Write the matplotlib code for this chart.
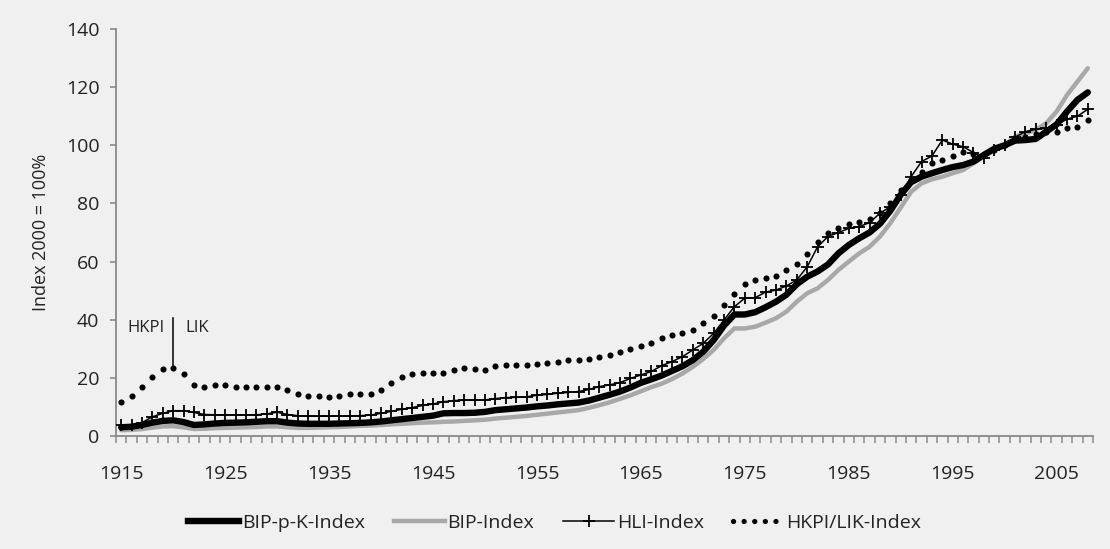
import matplotlib
matplotlib.use("Agg")
import matplotlib.pyplot as plt
from matplotlib.lines import Line2D
from matplotlib.ticker import FixedLocator

years = list(range(1915, 2009))

bip_pk = [3.0, 3.2, 3.8, 4.6, 5.2, 5.4, 4.8, 3.8, 4.0, 4.3,
          4.5, 4.6, 4.7, 4.9, 5.1, 5.1, 4.6, 4.3, 4.2, 4.2,
          4.2, 4.3, 4.4, 4.5, 4.7, 5.0, 5.4, 5.8, 6.2, 6.6,
          7.0, 7.8, 7.9, 7.9, 8.0, 8.3, 8.9, 9.2, 9.5, 9.8,
          10.2, 10.5, 10.9, 11.2, 11.5, 12.2, 13.2, 14.2, 15.3, 16.7,
          18.3, 19.5, 20.8, 22.4, 24.0, 26.1, 29.0, 33.0, 38.0, 41.8,
          41.8, 42.6, 44.3, 46.2, 48.6, 52.2, 54.8, 56.6, 59.0, 62.8,
          65.7, 68.0, 70.0, 73.0, 77.5, 83.0, 87.3, 89.2, 90.4, 91.5,
          92.5, 93.2, 94.4, 96.7, 98.8, 100.0, 101.6, 101.8, 102.2, 104.7,
          107.2, 111.6, 115.6, 118.2]

bip = [2.0, 2.1, 2.4, 2.9, 3.3, 3.4, 3.0, 2.4, 2.5, 2.7,
       2.8, 2.9, 3.0, 3.1, 3.3, 3.3, 3.0, 2.8, 2.8, 2.9,
       3.0, 3.1, 3.3, 3.5, 3.6, 3.8, 4.0, 4.2, 4.4, 4.6,
       4.7, 4.9, 5.0, 5.2, 5.4, 5.6, 6.0, 6.3, 6.6, 6.9,
       7.3, 7.7, 8.1, 8.5, 8.9, 9.7, 10.6, 11.6, 12.8, 14.0,
       15.4, 16.8, 18.0, 19.6, 21.5, 23.8, 26.5, 29.6, 33.6, 37.0,
       37.0, 37.6, 39.0, 40.5, 42.8, 46.2, 49.1, 50.8, 53.7, 57.1,
       60.0, 62.8, 65.1, 68.6, 73.2, 78.6, 84.0, 86.9, 88.3, 89.2,
       90.4, 91.5, 93.8, 96.1, 98.4, 100.0, 103.0, 104.1, 105.3, 107.6,
       111.6, 117.3, 121.9, 126.5]

hli = [3.8, 3.8, 4.6, 6.6, 7.8, 8.7, 8.7, 8.1, 7.4, 7.3,
       7.3, 7.3, 7.3, 7.3, 7.6, 8.2, 7.4, 7.0, 6.8, 6.8,
       6.8, 6.8, 6.9, 7.0, 7.2, 7.8, 8.5, 9.2, 9.8, 10.5,
       11.0, 11.8, 12.2, 12.3, 12.3, 12.4, 12.9, 13.2, 13.3, 13.5,
       14.0, 14.3, 14.7, 15.0, 15.3, 16.0, 17.0, 17.6, 18.4, 19.8,
       21.0, 22.2, 24.2, 25.6, 27.3, 29.6, 31.9, 35.3, 39.9, 44.5,
       47.4, 47.6, 49.5, 50.2, 51.6, 53.7, 58.2, 65.1, 68.6, 70.0,
       71.4, 72.0, 73.4, 76.6, 78.9, 82.9, 89.2, 94.4, 96.3, 101.8,
       100.4, 99.5, 97.5, 95.5, 98.4, 100.1, 102.8, 104.7, 105.5, 105.8,
       107.0, 109.0, 110.0, 112.4]

hkpi_lik = [11.8, 13.8, 16.7, 20.4, 23.0, 23.5, 21.3, 17.5, 17.0, 17.5,
            17.5, 17.0, 17.0, 17.0, 17.0, 17.0, 15.8, 14.3, 13.8, 13.6,
            13.3, 13.8, 14.3, 14.3, 14.3, 15.8, 18.2, 20.2, 21.3, 21.8,
            21.8, 21.8, 22.7, 23.5, 23.0, 22.7, 24.1, 24.4, 24.4, 24.5,
            24.9, 25.2, 25.6, 26.0, 26.0, 26.5, 27.1, 28.0, 28.9, 29.9,
            31.0, 32.1, 33.6, 34.6, 35.3, 36.5, 39.0, 41.4, 45.0, 49.0,
            52.4, 53.7, 54.4, 55.0, 57.1, 59.3, 62.5, 66.6, 69.7, 71.4,
            73.0, 73.6, 74.7, 76.8, 80.0, 84.5, 88.0, 90.9, 93.8, 94.9,
            96.4, 97.6, 97.0, 96.5, 98.5, 100.0, 102.0, 103.0, 104.0, 104.5,
            104.7, 105.8, 106.2, 108.6]

label_years = [1915, 1925, 1935, 1945, 1955, 1965, 1975, 1985, 1995, 2005]
y_ticks = [0, 20, 40, 60, 80, 100, 120, 140]

series_names = ["BIP-p-K-Index", "BIP-Index", "HLI-Index", "HKPI/LIK-Index"]

font = "Open Sans"
plt.rcParams["font.family"] = [font, "DejaVu Sans"]
bg = "#f0f0f0"
axis_col = "#8a8a8a"
txt_col = "#222222"

fig = plt.figure(figsize=(11.10, 5.49), dpi=100, facecolor=bg)
ax = fig.add_axes([0.1045, 0.2058, 0.8802, 0.7414], facecolor=bg)

ax.plot(years, bip, color="#a8a8a8", lw=3.2, solid_capstyle="round", zorder=2)
ax.plot(years, bip_pk, color="black", lw=4.6, solid_capstyle="round", zorder=3)
ax.plot(years, hli, color="black", lw=1.1, marker="+", markersize=9,
        markeredgewidth=1.3, zorder=4)
ax.plot(years, hkpi_lik, color="black", lw=0, marker="o", markersize=4.4,
        markeredgewidth=0, zorder=5)

ax.set_xlim(1914.5, 2008.5)
ax.set_ylim(0, 140)

for s in ["top", "right"]:
    ax.spines[s].set_visible(False)
for s in ["left", "bottom"]:
    ax.spines[s].set_color(axis_col)
    ax.spines[s].set_linewidth(1.3)

ax.set_yticks(y_ticks)
ax.set_xticks(label_years)
ax.xaxis.set_minor_locator(FixedLocator([y - 0.5 for y in years] + [2008.5]))
ax.yaxis.set_tick_params(which="major", length=4, width=1.2, color=axis_col,
                         pad=8, labelsize=14, labelcolor=txt_col)
ax.xaxis.set_tick_params(which="minor", length=5, width=1.1, color=axis_col,
                         direction="out")
ax.xaxis.set_tick_params(which="major", length=0, width=0, pad=21,
                         labelsize=14, labelcolor=txt_col)

ax.set_ylabel("Index 2000 = 100%", fontsize=13, color=txt_col, labelpad=11)

# annotation for HKPI | LIK break
ax.plot([1920, 1920], [23.8, 40.5], color="black", lw=1.1, zorder=6)
ax.text(1919.2, 37.3, "HKPI", ha="right", va="center", fontsize=12, color=txt_col)
ax.text(1921.2, 37.3, "LIK", ha="left", va="center", fontsize=12, color=txt_col)

handles = [
    Line2D([], [], color="black", lw=4.6),
    Line2D([], [], color="#a8a8a8", lw=3.2),
    Line2D([], [], color="black", lw=1.1, marker="+", markersize=9, markeredgewidth=1.3),
    Line2D([], [], color="black", lw=3.8, linestyle=(0, (0.01, 2.0)),
           dash_capstyle="round"),
]
leg = fig.legend(handles, series_names, loc="center", bbox_to_anchor=(0.5, 0.047),
                 ncol=4, frameon=False, fontsize=14, handlelength=2.6,
                 handletextpad=0.15, columnspacing=1.5, numpoints=1)
for t in leg.get_texts():
    t.set_color(txt_col)

fig.savefig("out.png", dpi=100, facecolor=bg)
